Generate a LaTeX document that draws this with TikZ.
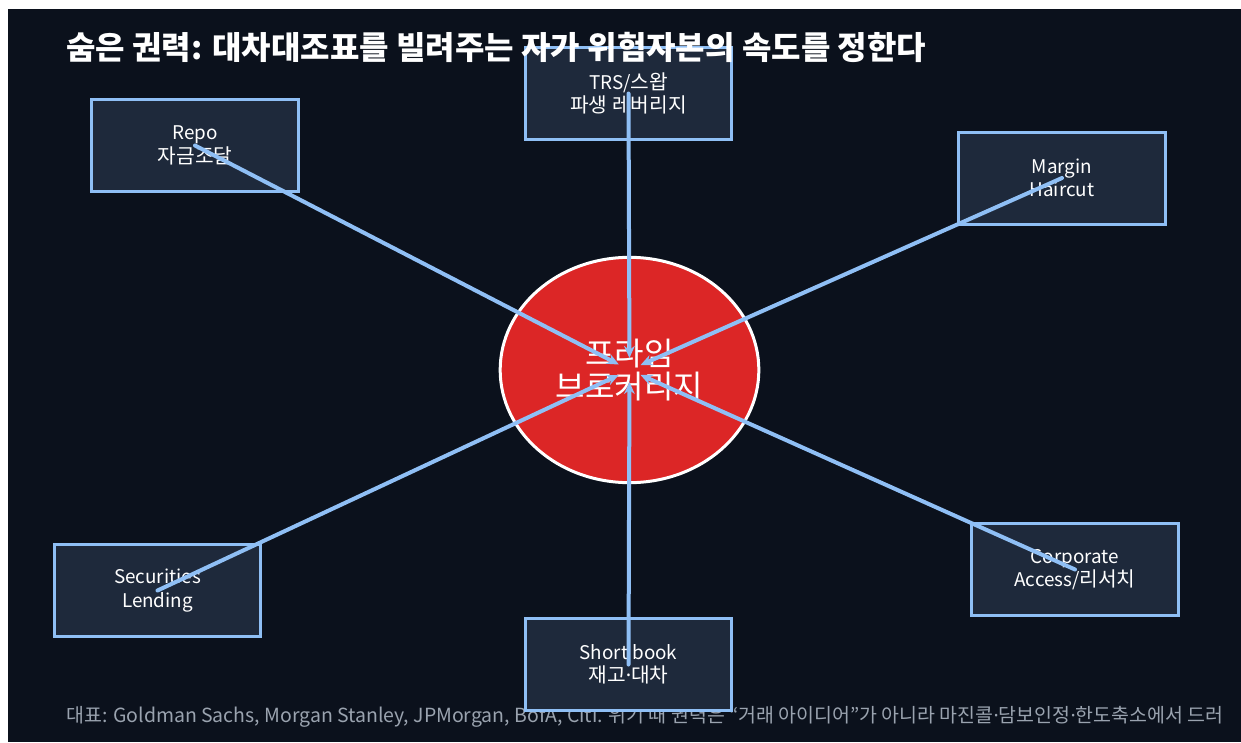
\documentclass[tikz,border=0pt]{standalone}
\usepackage{fontspec}
\setmainfont{Noto Sans CJK KR}
\newfontfamily\latn{Noto Sans CJK KR}[Scale=0.93]
\newfontfamily\dotf{Noto Sans}
\usetikzlibrary{arrows.meta,shapes.geometric}
\definecolor{bg}{HTML}{0B111C}
\definecolor{boxfill}{HTML}{1E293B}
\definecolor{edge}{HTML}{8FBFF5}
\definecolor{hubred}{HTML}{DC2626}
\definecolor{foot}{HTML}{9AA3AF}
\begin{document}
\begin{tikzpicture}[x=0.75pt,y=-0.75pt,
  card/.style={draw=edge, fill=boxfill, line width=2.25pt, minimum width=155pt, minimum height=69pt,
    inner sep=0pt, align=center, text=white, font=\fontsize{15.2}{17.5}\selectfont},
  hubnode/.style={ellipse, draw=white, fill=hubred, line width=2.25pt, minimum width=194pt, minimum height=169pt,
    inner sep=0pt, align=center, text=white, font=\fontsize{24}{25}\selectfont},
  link/.style={draw=edge, line width=3pt, line cap=round, -{Stealth[length=9pt,width=8pt]}, shorten >=9pt}]
\useasboundingbox (0,0) rectangle (1241,742);
\fill[white] (0,0) rectangle (1241,742);
\fill[bg] (8,9) rectangle (1241,742);
% footer
\node[anchor=west, text=foot, inner sep=0pt, font=\fontsize{14.6}{17}\selectfont] (footer) at (66,717)
  {대표: Goldman Sachs, Morgan Stanley, JPMorgan, BofA, Citi. 위기 때 권력은 “거래 아이디어”가 아니라 마진콜{\dotf ·}담보인정{\dotf ·}한도축소에서 드러};
% boxes
\node[card] (trs) at (628.5,93.5) {{\latn TRS/}스왑\\파생 레버리지};
\node[card] (repo) at (195,145.5) {{\latn Repo}\\자금조달};
\node[card] (margin) at (1062,178) {{\latn Margin}\\{\latn Haircut}};
\node[card] (sec) at (157.5,590.5) {{\latn Securities}\\{\latn Lending}};
\node[card] (short) at (628.5,664.5) {{\latn Short book}\\재고{\dotf ·}대차};
\node[card] (corp) at (1075,569.5) {{\latn Corporate}\\{\latn Access/}리서치};
% hub
\node[hubnode] (hub) at (629.5,370) {프라임\\브로커리지};
% title
\node[anchor=west, text=white, inner sep=0pt, font=\fontsize{24}{28}\selectfont\bfseries] (title) at (66,47)
  {숨은 권력: 대차대조표를 빌려주는 자가 위험자본의 속도를 정한다};
% links
\draw[link] (trs.center) -- (hub.center);
\draw[link] (repo.center) -- (hub.center);
\draw[link] (margin.center) -- (hub.center);
\draw[link] (sec.center) -- (hub.center);
\draw[link] (short.center) -- (hub.center);
\draw[link] (corp.center) -- (hub.center);
\end{tikzpicture}
\end{document}
